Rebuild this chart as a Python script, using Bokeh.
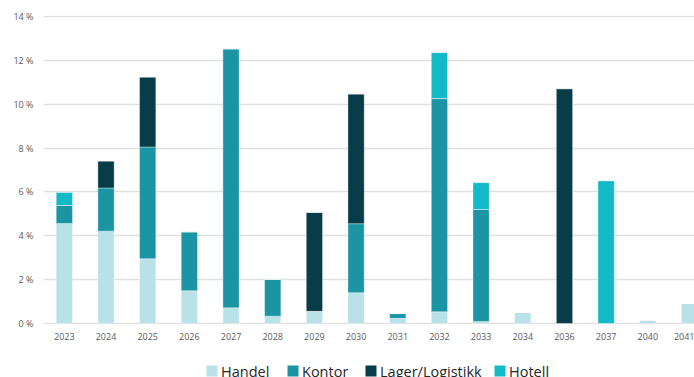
from bokeh.plotting import figure
from bokeh.layouts import column
from bokeh.models import ColumnDataSource, FixedTicker, Range1d
from bokeh.core.properties import value
from bokeh.embed import file_html
from bokeh.resources import INLINE

# Expiry year of leases and share of rent (%) per property segment
years = ["2023", "2024", "2025", "2026", "2027", "2028", "2029", "2030",
         "2031", "2032", "2033", "2034", "2036", "2037", "2040", "2041"]
handel = [4.56, 4.21, 2.95, 1.49, 0.71, 0.33, 0.55, 1.40,
          0.23, 0.53, 0.09, 0.50, 0.00, 0.00, 0.15, 0.91]
kontor = [0.82, 1.97, 5.10, 2.69, 11.82, 1.68, 0.00, 3.15,
          0.22, 9.73, 5.11, 0.00, 0.00, 0.00, 0.00, 0.00]
lager = [0.00, 1.23, 3.19, 0.00, 0.00, 0.00, 4.51, 5.92,
         0.00, 0.00, 0.00, 0.00, 10.71, 0.00, 0.00, 0.00]
hotell = [0.59, 0.00, 0.00, 0.00, 0.00, 0.00, 0.00, 0.00,
          0.00, 2.09, 1.22, 0.00, 0.00, 6.50, 0.00, 0.00]

segments = ["Handel", "Kontor", "Lager/Logistikk", "Hotell"]
colors = ["#b9e1e8", "#1b95a3", "#073c48", "#12b9c7"]
y_ticks = [0, 2, 4, 6, 8, 10, 12, 14]

left = 43  # space for the y-axis labels

source = ColumnDataSource(data=dict(
    x=list(range(len(years))),
    Handel=handel,
    Kontor=kontor,
    **{"Lager/Logistikk": lager},
    Hotell=hotell,
))

p = figure(
    width=694, height=348,
    output_backend="svg", toolbar_location=None,
    x_range=Range1d(-0.5, 15.12), y_range=Range1d(-0.05, 14.05),
    min_border_left=left, min_border_right=0,
    min_border_top=15, min_border_bottom=24,
)

p.vbar_stack(
    segments, x="x", width=0.39, source=source, color=colors,
    line_color="white", line_width=0.6, line_alpha=0.6,
)

# Axes
p.xaxis.ticker = FixedTicker(ticks=list(range(len(years))))
p.xaxis.major_label_overrides = {i: y for i, y in enumerate(years)}
p.yaxis.ticker = FixedTicker(ticks=y_ticks)
p.yaxis.major_label_overrides = {t: f"{t} %" for t in y_ticks}

for ax in (p.xaxis, p.yaxis):
    ax.axis_line_color = None
    ax.major_tick_line_color = None
    ax.minor_tick_line_color = None
    ax.major_tick_out = 0
    ax.major_tick_in = 0
    ax.minor_tick_out = 0
    ax.major_label_text_font = "Open Sans"
    ax.major_label_text_font_size = "9px"
    ax.major_label_text_color = "#5a5a5a"
p.xaxis.major_label_standoff = 8
p.yaxis.major_label_standoff = 10

p.xgrid.grid_line_color = None
p.ygrid.ticker = FixedTicker(ticks=y_ticks)
p.ygrid.grid_line_color = "#e0e0e0"
p.ygrid.grid_line_width = 1.5
p.outline_line_color = None

# Legend strip under the chart (1 data unit = 1 pixel, x from the page's left
# edge, y measured from the bottom)
legend_x = [206, 287, 365, 494]
swatch = 11
strip_h = 29

leg = figure(
    width=694, height=strip_h,
    output_backend="svg", toolbar_location=None,
    x_range=Range1d(left, 694), y_range=Range1d(0, strip_h),
    x_axis_location=None, y_axis_location=None,
    min_border=0, min_border_left=left,
)
leg.grid.visible = False
leg.outline_line_color = None

leg_src = ColumnDataSource(data=dict(
    x=[x + swatch / 2 for x in legend_x],
    tx=[x + swatch + 3.5 for x in legend_x],
    label=segments,
    color=colors,
))
leg.rect(x="x", y=6.5, width=swatch, height=swatch, fill_color="color",
         line_color=None, source=leg_src)
leg.text(x="tx", y=6.5, text="label", source=leg_src,
         text_font=value("Open Sans"), text_font_size="14.5px",
         text_color="#262626", text_baseline="middle", text_align="left")

layout = column(p, leg, spacing=0)
open("out.html", "w").write(file_html(layout, INLINE))
